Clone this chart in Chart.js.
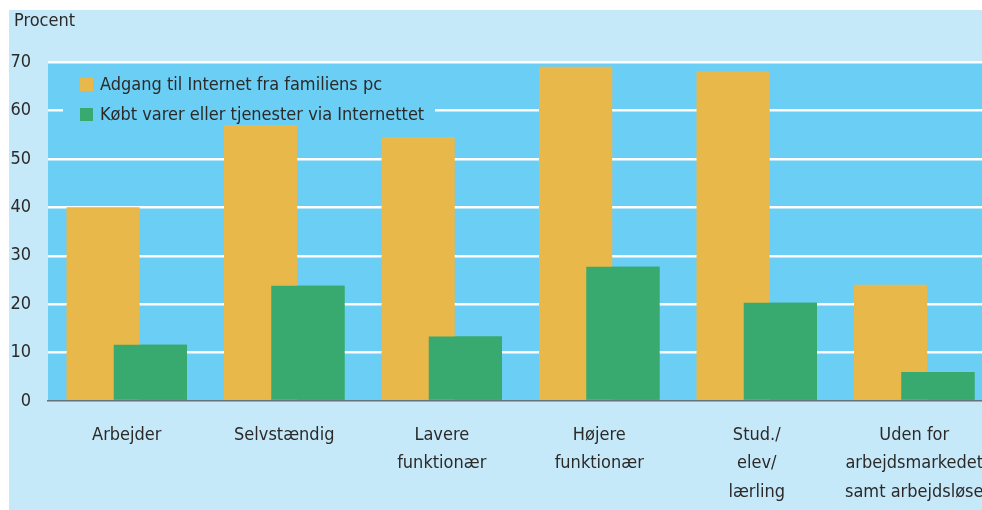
<!DOCTYPE html>
<html><head><meta charset="utf-8">
<script src="https://cdn.jsdelivr.net/npm/chart.js@4.4.1/dist/chart.umd.min.js"></script>
<style>
html,body{margin:0;padding:0;background:#fff;overflow:hidden;width:982px;height:510px;}
#wrap{position:absolute;left:9px;top:10px;width:984px;height:500px;}
</style></head><body>
<div id="wrap"><canvas id="c" width="984" height="500"></canvas></div>
<script>
const categories = ['Arbejder', 'Selvstændig', ['Lavere', 'funktionær'], ['Højere', 'funktionær'], ['Stud./', 'elev/', 'lærling'], ['Uden for', 'arbejdsmarkedet', 'samt arbejdsløse']];
const seriesNames = ['Adgang til Internet fra familiens pc', 'Købt varer eller tjenester via Internettet'];
const adgang = [40, 57, 54.5, 69, 68.1, 24];
const koebt = [11.6, 23.8, 13.3, 27.7, 20.3, 6];
const yTicks = [0, 10, 20, 30, 40, 50, 60, 70];
const yTitle = 'Procent';

const FONT = '"Liberation Sans Narrow","DejaVu Sans Condensed","Open Sans",sans-serif';
const TEXT = '#2b2a29';
const OUTER = '#c6e9f9';
const PLOT = '#6bcef5';
const ORANGE = '#e8b84a';
const GREEN = '#38aa6f';

const bgPlugin = {
  id: 'bg',
  beforeDraw(chart) {
    const {ctx, chartArea: a} = chart;
    ctx.save();
    ctx.fillStyle = OUTER;
    ctx.fillRect(0, 0, chart.width, chart.height);
    ctx.fillStyle = PLOT;
    ctx.fillRect(a.left, a.top, a.right - a.left, a.bottom - a.top);
    // unit label above the value axis
    ctx.fillStyle = TEXT;
    ctx.font = '18px ' + FONT;
    ctx.textBaseline = 'middle';
    ctx.textAlign = 'left';
    ctx.fillText(yTitle, 5, 11);
    ctx.restore();
  }
};

const legendPlugin = {
  id: 'boxLegend',
  beforeDatasetsDraw(chart) {
    const {ctx, chartArea: a} = chart;
    ctx.save();
    ctx.fillStyle = PLOT;
    ctx.fillRect(a.left + 15, a.top + 2.5, 372, 61);
    ctx.font = '18px ' + FONT;
    ctx.textBaseline = 'middle';
    ctx.textAlign = 'left';
    chart.data.datasets.forEach((ds, i) => {
      const y = a.top + 16 + i * 30;
      ctx.fillStyle = ds.backgroundColor;
      ctx.fillRect(a.left + 32, y, 13, 13);
      ctx.fillStyle = TEXT;
      ctx.fillText(ds.label, a.left + 52, y + 7);
    });
    ctx.restore();
  },
  afterDatasetsDraw(chart) {
    // the second series overlaps the first one: draw it again on top
    const meta = chart.getDatasetMeta(1);
    chart.ctx.save();
    meta.controller.draw();
    chart.ctx.restore();
  }
};

new Chart(document.getElementById('c'), {
  type: 'bar',
  data: {
    labels: categories,
    datasets: [
      {label: seriesNames[0], data: adgang, backgroundColor: ORANGE, categoryPercentage: 0.6, barPercentage: 1.55},
      {label: seriesNames[1], data: koebt, backgroundColor: GREEN, categoryPercentage: 0.6, barPercentage: 1.55}
    ]
  },
  options: {
    responsive: false,
    animation: false,
    devicePixelRatio: 1,
    layout: {padding: {left: 0, right: 0, top: 52, bottom: 0}},
    plugins: {
      legend: {display: false},
      tooltip: {enabled: false},
      title: {display: false}
    },
    scales: {
      x: {
        grid: {display: false, drawTicks: false},
        border: {display: true, color: '#66717b', width: 1.5},
        ticks: {color: TEXT, font: {family: FONT, size: 18, lineHeight: 1.6}, padding: 19.6, maxRotation: 0, autoSkip: false},
        afterFit(scale) { scale.height = 109; scale.paddingLeft = 0; scale.paddingRight = 0; }
      },
      y: {
        min: 0, max: 70,
        afterBuildTicks(scale) { scale.ticks = yTicks.map(v => ({value: v})); },
        grid: {
          drawTicks: false, lineWidth: 2.4,
          color: ctx => (ctx.tick && ctx.tick.value === 0) ? 'rgba(0,0,0,0)' : '#ffffff'
        },
        border: {display: false},
        ticks: {color: TEXT, font: {family: FONT, size: 18}, padding: 17},
        afterFit(scale) { scale.width = 39; scale.paddingTop = 0; scale.paddingBottom = 0; }
      }
    }
  },
  plugins: [bgPlugin, legendPlugin]
});
</script>
</body></html>
